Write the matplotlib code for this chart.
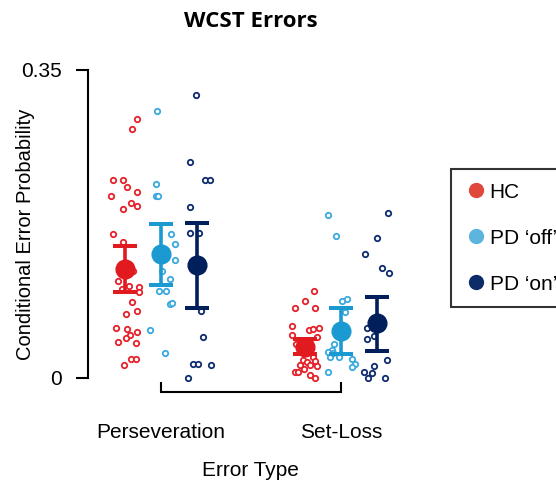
import matplotlib.pyplot as plt
from matplotlib.lines import Line2D

error_types = ['Perseveration', 'Set-Loss']
groups = ['HC', 'PD \u2018off\u2019', 'PD \u2018on\u2019']

# group means and error bar ends, per error type (HC, off, on)
mean_persev = [0.124, 0.141, 0.128]
low_persev = [0.098, 0.106, 0.080]
high_persev = [0.150, 0.175, 0.1765]
mean_setloss = [0.035, 0.053, 0.063]
low_setloss = [0.027, 0.027, 0.031]
high_setloss = [0.044, 0.079, 0.092]

# individual subjects (values) and their horizontal jitter
hc_persev = [0.294, 0.283, 0.225, 0.225, 0.217, 0.207, 0.211, 0.199, 0.195, 0.192, 0.164,
             0.154, 0.121, 0.110, 0.105, 0.101, 0.103, 0.098, 0.086, 0.076, 0.073, 0.057,
             0.056, 0.052, 0.049, 0.045, 0.041, 0.040, 0.022, 0.022, 0.015]
hc_persev_jit = [0.065, 0.037, -0.065, -0.013, 0.013, -0.079, 0.068, 0.035, 0.065, -0.009, -0.069,
                 -0.009, 0.046, -0.041, 0.024, -0.017, 0.076, 0.076, 0.039, 0.068, 0.007, -0.05,
                 0.013, 0.067, 0.029, 0.004, -0.037, 0.061, 0.033, 0.059, -0.007]
off_persev = [0.303, 0.220, 0.207, 0.207, 0.164, 0.152, 0.134, 0.122, 0.112, 0.099, 0.099,
              0.084, 0.085, 0.055, 0.028]
off_persev_jit = [-0.024, -0.029, -0.028, -0.015, 0.056, 0.076, 0.076, 0.004, 0.05, -0.013, 0.028,
                  0.05, 0.059, -0.061, 0.022]
on_persev = [0.322, 0.245, 0.225, 0.225, 0.194, 0.165, 0.165, 0.076, 0.047, 0.016, 0.016,
             0.015, 0.0]
on_persev_jit = [-0.007, -0.039, 0.043, 0.071, -0.037, -0.039, 0.013, 0.024, 0.032, -0.021, 0.006,
                 0.078, -0.048]

hc_setloss = [0.099, 0.087, 0.079, 0.079, 0.059, 0.054, 0.056, 0.057, 0.049, 0.047, 0.039, 0.024,
              0.020, 0.018, 0.019, 0.015, 0.015, 0.014, 0.010, 0.007, 0.007, 0.003, 0.0]
hc_setloss_jit = [0.052, 0.002, -0.057, 0.057, -0.072, 0.022, 0.046, 0.076, -0.072, 0.065, -0.052,
                  0.046, -0.013, 0.009, 0.056, -0.028, 0.028, 0.065, -0.004, -0.056, -0.041, 0.028,
                  0.056]
off_setloss = [0.185, 0.161, 0.087, 0.090, 0.075, 0.039, 0.032, 0.030, 0.024, 0.024, 0.022, 0.016,
               0.013, 0.007, 0.028]
off_setloss_jit = [-0.072, -0.026, 0.004, 0.035, 0.024, -0.041, -0.052, -0.074, -0.061, -0.011,
                   0.061, 0.078, 0.059, -0.071, -0.046]
on_setloss = [0.188, 0.159, 0.141, 0.125, 0.119, 0.057, 0.048, 0.044, 0.020, 0.014, 0.007, 0.006,
              0.0, 0.0]
on_setloss_jit = [0.063, 0.002, -0.067, 0.029, 0.068, -0.057, -0.017, -0.057, 0.054, -0.017, -0.071,
                  -0.029, -0.048, 0.043]

dot_colors = ['#E62129', '#3BA9DF', '#0E2B6E']
mean_colors = ['#E11A1F', '#1B9AD2', '#001F5B']
legend_colors = ['#E0483C', '#5CB4DF', '#0B2B69']
offsets = [-0.2, 0.0, 0.2]

plt.rcParams['font.family'] = ['Liberation Sans', 'DejaVu Sans']

fig = plt.figure(figsize=(5.56, 4.82), dpi=100)
ax = fig.add_axes([0.1583, 0.2104, 0.5612, 0.6627])

subjects = [[hc_persev, off_persev, on_persev], [hc_setloss, off_setloss, on_setloss]]
jitters = [[hc_persev_jit, off_persev_jit, on_persev_jit],
           [hc_setloss_jit, off_setloss_jit, on_setloss_jit]]
means = [mean_persev, mean_setloss]
lows = [low_persev, low_setloss]
highs = [high_persev, high_setloss]

for c in range(len(error_types)):
    for g in range(len(groups)):
        xc = c + 1 + offsets[g]
        xs = [xc + j for j in jitters[c][g]]
        ax.plot(xs, subjects[c][g], 'o', ms=3.9, mfc='white', mec=dot_colors[g], mew=1.3,
                linestyle='none', zorder=2)

for c in range(len(error_types)):
    for g in range(len(groups)):
        xc = c + 1 + offsets[g]
        m = means[c][g]
        ax.errorbar([xc], [m], yerr=[[m - lows[c][g]], [highs[c][g] - m]], fmt='o',
                    color=mean_colors[g], ms=13.5, elinewidth=2.6, capsize=8.3, capthick=2.9,
                    zorder=3)

ax.set_xlim(0.594, 2.328)
ax.set_ylim(-0.003, 0.36)

for side in ['top', 'right']:
    ax.spines[side].set_visible(False)
ax.spines['left'].set_bounds(0, 0.35)
ax.spines['bottom'].set_bounds(1, 2)
ax.spines['bottom'].set_position(('outward', 8.2))
ax.spines['left'].set_linewidth(1.5)
ax.spines['bottom'].set_linewidth(1.5)

ax.set_yticks([0, 0.35])
ax.set_yticklabels(['0', '0.35'])
ax.set_xticks([1, 2])
ax.set_xticklabels(error_types)
ax.tick_params(axis='y', direction='out', length=8.6, width=1.5, pad=10, labelsize=15)
ax.tick_params(axis='x', direction='in', length=7.2, width=1.5, pad=22.5, labelsize=15)

ax.set_ylabel('Conditional Error Probability', fontsize=14.5)
ax.yaxis.set_label_coords(-0.170, 0.459)
ax.set_xlabel('Error Type', fontsize=15)
ax.xaxis.set_label_coords(0.519, -0.251)

fig.text(0.452, 0.956, 'WCST Errors', ha='center', va='center', fontsize=16,
         fontweight='bold', family=['Open Sans', 'DejaVu Sans'])

handles = [Line2D([], [], marker='o', linestyle='none', ms=10, color=col) for col in legend_colors]
leg = fig.legend(handles, groups, loc='upper left', bbox_to_anchor=(451 / 556, 1 - 169 / 482),
                 borderaxespad=0, fontsize=15, frameon=True, fancybox=False, borderpad=0.65,
                 handlelength=1.1, handletextpad=0.1, labelspacing=1.3)
leg.get_frame().set_edgecolor('black')
leg.get_frame().set_linewidth(1.5)

fig.savefig('out.png', dpi=100)
